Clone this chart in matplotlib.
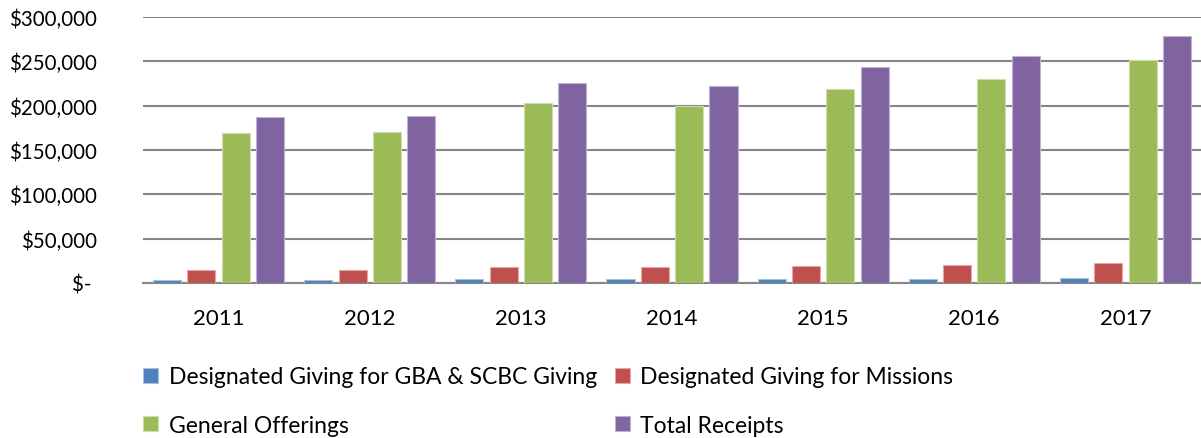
import numpy as np
import matplotlib.pyplot as plt

# ── Dati ──────────────────────────────────────────────────────────────────────
years = ["2011", "2012", "2013", "2014", "2015", "2016", "2017"]
gba_scbc = [3700, 3700, 4800, 4500, 4800, 4800, 5600]
missions = [15000, 15000, 18300, 18300, 19500, 20600, 22500]
general = [169000, 170000, 203000, 199600, 218800, 230400, 251100]
total = [187500, 188400, 225500, 221800, 243200, 256000, 278800]

series_names = ["Designated Giving for GBA & SCBC Giving",
                "Designated Giving for Missions",
                "General Offerings",
                "Total Receipts"]
y_ticks = [0, 50000, 100000, 150000, 200000, 250000, 300000]
y_labels = ["$- ", "$50,000", "$100,000", "$150,000",
            "$200,000", "$250,000", "$300,000"]

COLORS = ["#4F81BD", "#C0504D", "#9BBB59", "#8064A2"]
EDGES = ["#A7C0DE", "#E0A9A7", "#CDDDAC", "#BFB1D0"]

plt.rcParams["font.family"] = ["Lato", "DejaVu Sans"]

fig = plt.figure(figsize=(12.01, 4.39), dpi=100)
ax = fig.add_axes([143 / 1201, 1 - 284 / 439, 1 - 143 / 1201, 266 / 439])

x = np.arange(len(years))
step = 0.227
width = 0.186
handles = []
for i, (vals, name) in enumerate(zip([gba_scbc, missions, general, total], series_names)):
    h = ax.bar(x + (i - 1.5) * step, vals, width, color=COLORS[i],
               edgecolor=EDGES[i], linewidth=0.8, label=name, zorder=3)
    handles.append(h)

ax.set_xlim(-0.5, len(years) - 0.5)
ax.set_ylim(0, 300000)
ax.set_yticks(y_ticks)
ax.set_yticklabels(y_labels, fontsize=14.8)
ax.set_xticks(x)
ax.set_xticklabels(years, fontsize=16)
ax.tick_params(axis="y", length=0, pad=33)
ax.tick_params(axis="x", length=0, pad=18)
ax.grid(axis="y", color="#868686", linewidth=1.5, zorder=0)
for s in ["top", "right", "left"]:
    ax.spines[s].set_visible(False)
ax.spines["bottom"].set_color("#868686")
ax.spines["bottom"].set_linewidth(1.5)

# legenda a due righe: riga 1 blu/rosso, riga 2 verde/viola
order = [0, 2, 1, 3]
fig.legend([handles[i] for i in order], [series_names[i] for i in order],
           ncol=2, loc="lower left", bbox_to_anchor=(132 / 1201, -0.021),
           borderpad=0, frameon=False, fontsize=16.5,
           handlelength=0.65, handleheight=0.65,
           handletextpad=0.45, columnspacing=0.8, labelspacing=1.2)

plt.savefig("out.png", dpi=100)
plt.close()
